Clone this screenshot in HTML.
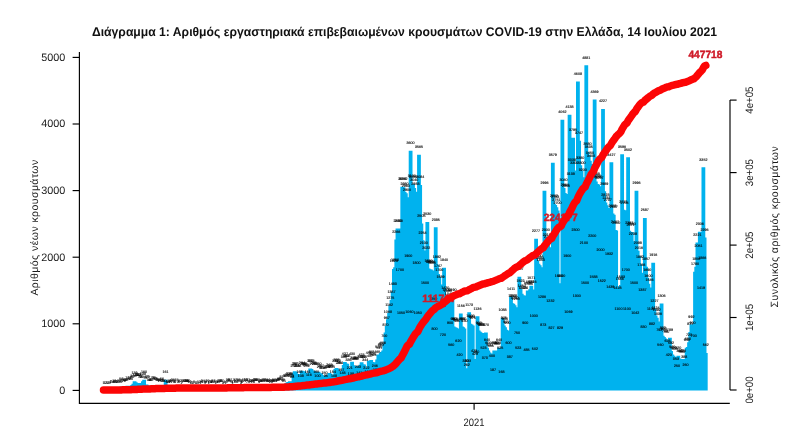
<!DOCTYPE html>
<html lang="el"><head><meta charset="utf-8"><title>Διάγραμμα 1</title>
<style>
html,body{margin:0;padding:0;background:#fff;}
body{width:789px;height:438px;overflow:hidden;}
svg{display:block;will-change:transform;font-family:"Liberation Sans",sans-serif;text-rendering:geometricPrecision;}
.t{font-size:3.65px;fill:#000;stroke:#000;stroke-width:0.12;text-anchor:middle;}
.ax{font-size:10.8px;fill:#1a1a1a;}
.al{font-size:10.5px;fill:#1a1a1a;}
.rl{font-size:10.4px;font-weight:bold;fill:#cf1a28;stroke:#cf1a28;stroke-width:0.45;text-anchor:middle;}
</style></head><body>
<svg width="789" height="438" viewBox="0 0 789 438">
<rect width="789" height="438" fill="#fff"/>
<text x="404.5" y="36" text-anchor="middle" font-size="12.6" font-weight="bold" fill="#111" textLength="625" lengthAdjust="spacingAndGlyphs">Διάγραμμα 1: Αριθμός εργαστηριακά επιβεβαιωμένων κρουσμάτων COVID-19 στην Ελλάδα, 14 Ιουλίου 2021</text>
<path fill="#00b2ee" d="M101.60,390.40L101.60,390.33L102.80,390.33L102.80,390.33L103.99,390.33L103.99,390.27L105.19,390.27L105.19,390.27L105.40,390.27L105.40,390.27L106.38,390.27L106.38,390.27L106.59,390.27L106.59,390.27L107.58,390.27L107.58,390.20L107.79,390.20L107.79,390.20L108.77,390.20L108.77,389.93L108.98,389.93L108.98,389.93L109.97,389.93L109.97,389.47L110.18,389.47L110.18,389.47L111.16,389.47L111.16,389.33L111.38,389.33L111.38,389.33L112.36,389.33L112.36,389.13L112.57,389.13L112.57,389.13L113.55,389.13L113.55,389.13L113.77,389.13L113.77,389.13L114.75,389.13L114.75,389.13L114.96,389.13L114.96,389.13L115.94,389.13L115.94,389.13L116.16,389.13L116.16,389.27L117.14,389.27L117.14,388.20L117.35,388.20L117.35,388.20L118.33,388.20L118.33,388.20L118.55,388.20L118.55,388.20L119.53,388.20L119.53,386.54L119.74,386.54L119.74,386.54L120.72,386.54L120.72,386.54L120.94,386.54L120.94,386.54L121.92,386.54L121.92,386.54L122.13,386.54L122.13,386.54L123.11,386.54L123.11,386.54L123.33,386.54L123.33,387.47L124.31,387.47L124.31,387.47L124.52,387.47L124.52,387.74L125.50,387.74L125.50,385.67L125.72,385.67L125.72,385.67L126.69,385.67L126.69,385.67L126.91,385.67L126.91,385.67L127.89,385.67L127.89,385.67L128.10,385.67L128.10,385.67L129.09,385.67L129.09,385.67L129.30,385.67L129.30,385.67L130.28,385.67L130.28,385.07L130.50,385.07L130.50,385.07L131.47,385.07L131.47,383.74L131.69,383.74L131.69,383.74L132.67,383.74L132.67,381.14L132.88,381.14L132.88,381.14L133.87,381.14L133.87,381.14L134.08,381.14L134.08,381.14L135.06,381.14L135.06,381.14L135.28,381.14L135.28,381.14L136.25,381.14L136.25,381.14L136.47,381.14L136.47,382.21L137.45,382.21L137.45,382.21L137.66,382.21L137.66,382.94L138.65,382.94L138.65,382.94L138.86,382.94L138.86,382.94L139.84,382.94L139.84,382.94L140.06,382.94L140.06,383.07L141.03,383.07L141.03,381.21L141.25,381.21L141.25,381.21L142.23,381.21L142.23,379.74L142.44,379.74L142.44,379.74L143.43,379.74L143.43,379.74L143.64,379.74L143.64,379.74L144.62,379.74L144.62,379.74L144.84,379.74L144.84,379.74L145.81,379.74L145.81,379.74L146.03,379.74L146.03,384.61L147.01,384.61L147.01,384.61L147.22,384.61L147.22,384.61L148.21,384.61L148.21,384.61L148.42,384.61L148.42,385.14L149.40,385.14L149.40,385.14L149.62,385.14L149.62,387.34L150.59,387.34L150.59,385.40L150.81,385.40L150.81,385.40L151.79,385.40L151.79,385.40L152.00,385.40L152.00,385.40L152.99,385.40L152.99,385.40L153.20,385.40L153.20,385.40L154.18,385.40L154.18,385.40L154.40,385.40L154.40,385.54L155.38,385.54L155.38,385.54L155.59,385.54L155.59,386.60L156.57,386.60L156.57,386.60L156.78,386.60L156.78,386.74L157.76,386.74L157.76,386.74L157.98,386.74L157.98,387.20L158.96,387.20L158.96,387.20L159.18,387.20L159.18,387.47L160.16,387.47L160.16,387.07L160.37,387.07L160.37,387.07L161.35,387.07L161.35,387.07L161.56,387.07L161.56,387.07L162.54,387.07L162.54,387.07L162.76,387.07L162.76,387.07L163.74,387.07L163.74,379.68L163.96,379.68L163.96,379.68L164.94,379.68L164.94,379.68L165.15,379.68L165.15,379.68L166.13,379.68L166.13,379.68L166.34,379.68L166.34,379.68L167.32,379.68L167.32,379.68L167.54,379.68L167.54,389.13L168.52,389.13L168.52,389.13L168.74,389.13L168.74,389.13L169.72,389.13L169.72,388.80L169.93,388.80L169.93,388.80L170.91,388.80L170.91,388.00L171.12,388.00L171.12,388.00L172.10,388.00L172.10,388.00L172.32,388.00L172.32,388.00L173.30,388.00L173.30,388.00L173.51,388.00L173.51,388.00L174.50,388.00L174.50,387.40L174.71,387.40L174.71,387.40L175.69,387.40L175.69,387.40L175.91,387.40L175.91,387.40L176.88,387.40L176.88,387.40L177.10,387.40L177.10,387.40L178.08,387.40L178.08,387.40L178.29,387.40L178.29,388.93L179.28,388.93L179.28,388.93L179.49,388.93L179.49,388.93L180.47,388.93L180.47,388.93L180.69,388.93L180.69,388.93L181.66,388.93L181.66,388.67L181.88,388.67L181.88,388.67L182.86,388.67L182.86,388.67L183.07,388.67L183.07,388.67L184.06,388.67L184.06,388.67L184.27,388.67L184.27,388.67L185.25,388.67L185.25,388.54L185.47,388.54L185.47,388.54L186.44,388.54L186.44,388.40L186.66,388.40L186.66,388.40L187.64,388.40L187.64,388.40L187.85,388.40L187.85,388.40L188.84,388.40L188.84,388.40L189.05,388.40L189.05,388.40L190.03,388.40L190.03,388.40L190.25,388.40L190.25,389.73L191.22,389.73L191.22,389.73L191.44,389.73L191.44,390.33L192.42,390.33L192.42,390.07L192.63,390.07L192.63,390.07L193.62,390.07L193.62,390.07L193.83,390.07L193.83,390.07L194.81,390.07L194.81,390.07L195.03,390.07L195.03,390.07L196.00,390.07L196.00,390.07L196.22,390.07L196.22,390.33L197.20,390.33L197.20,389.60L197.41,389.60L197.41,389.60L198.40,389.60L198.40,389.60L198.61,389.60L198.61,389.60L199.59,389.60L199.59,389.60L199.81,389.60L199.81,389.60L200.78,389.60L200.78,388.80L201.00,388.80L201.00,388.80L201.98,388.80L201.98,388.80L202.19,388.80L202.19,388.80L203.18,388.80L203.18,388.80L203.39,388.80L203.39,388.80L204.37,388.80L204.37,388.80L204.59,388.80L204.59,389.53L205.56,389.53L205.56,389.07L205.78,389.07L205.78,389.07L206.76,389.07L206.76,389.07L206.97,389.07L206.97,389.07L207.96,389.07L207.96,389.07L208.17,389.07L208.17,389.07L209.15,389.07L209.15,389.07L209.37,389.07L209.37,389.40L210.34,389.40L210.34,389.40L210.56,389.40L210.56,389.40L211.54,389.40L211.54,388.54L211.75,388.54L211.75,388.54L212.74,388.54L212.74,388.54L212.95,388.54L212.95,388.54L213.93,388.54L213.93,388.54L214.15,388.54L214.15,388.54L215.12,388.54L215.12,388.54L215.34,388.54L215.34,389.80L216.32,389.80L216.32,389.73L216.53,389.73L216.53,389.73L217.51,389.73L217.51,388.73L217.73,388.73L217.73,388.73L218.71,388.73L218.71,388.47L218.93,388.47L218.93,388.47L219.91,388.47L219.91,388.47L220.12,388.47L220.12,388.47L221.10,388.47L221.10,388.47L221.31,388.47L221.31,388.47L222.29,388.47L222.29,388.47L222.51,388.47L222.51,388.60L223.49,388.60L223.49,388.60L223.71,388.60L223.71,390.13L224.69,390.13L224.69,390.00L224.90,390.00L224.90,390.00L225.88,390.00L225.88,388.07L226.09,388.07L226.09,388.07L227.07,388.07L227.07,388.07L227.29,388.07L227.29,388.07L228.27,388.07L228.27,387.94L228.49,387.94L228.49,387.94L229.47,387.94L229.47,387.94L229.68,387.94L229.68,387.94L230.66,387.94L230.66,387.94L230.88,387.94L230.88,387.94L231.85,387.94L231.85,387.94L232.07,387.94L232.07,389.53L233.05,389.53L233.05,387.94L233.26,387.94L233.26,387.94L234.25,387.94L234.25,387.94L234.46,387.94L234.46,387.94L235.44,387.94L235.44,387.94L235.66,387.94L235.66,387.94L236.63,387.94L236.63,387.87L236.85,387.87L236.85,387.87L237.83,387.87L237.83,387.87L238.04,387.87L238.04,387.87L239.03,387.87L239.03,387.87L239.24,387.87L239.24,387.87L240.22,387.87L240.22,387.87L240.44,387.87L240.44,388.20L241.41,388.20L241.41,387.27L241.63,387.27L241.63,387.27L242.61,387.27L242.61,387.27L242.82,387.27L242.82,387.27L243.81,387.27L243.81,387.27L244.02,387.27L244.02,387.27L245.00,387.27L245.00,387.27L245.22,387.27L245.22,387.87L246.19,387.87L246.19,387.87L246.41,387.87L246.41,387.87L247.39,387.87L247.39,387.87L247.60,387.87L247.60,387.94L248.59,387.94L248.59,387.94L248.80,387.94L248.80,387.94L249.78,387.94L249.78,387.94L250.00,387.94L250.00,388.20L250.97,388.20L250.97,388.20L251.19,388.20L251.19,388.20L252.17,388.20L252.17,387.54L252.38,387.54L252.38,387.54L253.37,387.54L253.37,387.54L253.58,387.54L253.58,387.54L254.56,387.54L254.56,387.54L254.78,387.54L254.78,387.54L255.75,387.54L255.75,387.54L255.97,387.54L255.97,387.94L256.95,387.94L256.95,387.94L257.17,387.94L257.17,387.94L258.14,387.94L258.14,387.94L258.36,387.94L258.36,387.94L259.34,387.94L259.34,387.94L259.56,387.94L259.56,388.47L260.54,388.47L260.54,388.47L260.75,388.47L260.75,388.47L261.73,388.47L261.73,387.94L261.94,387.94L261.94,387.94L262.93,387.94L262.93,387.87L263.14,387.87L263.14,387.87L264.12,387.87L264.12,387.87L264.33,387.87L264.33,387.87L265.31,387.87L265.31,387.87L265.53,387.87L265.53,387.87L266.51,387.87L266.51,387.67L266.73,387.67L266.73,387.67L267.70,387.67L267.70,387.67L267.92,387.67L267.92,387.67L268.90,387.67L268.90,387.67L269.12,387.67L269.12,387.67L270.10,387.67L270.10,387.67L270.31,387.67L270.31,388.47L271.29,388.47L271.29,387.40L271.50,387.40L271.50,387.40L272.49,387.40L272.49,387.40L272.70,387.40L272.70,387.40L273.68,387.40L273.68,387.40L273.89,387.40L273.89,387.40L274.88,387.40L274.88,387.40L275.09,387.40L275.09,387.80L276.07,387.80L276.07,387.54L276.29,387.54L276.29,387.54L277.26,387.54L277.26,386.47L277.48,386.47L277.48,386.47L278.46,386.47L278.46,386.40L278.68,386.40L278.68,386.40L279.65,386.40L279.65,385.01L279.87,385.01L279.87,385.01L280.85,385.01L280.85,385.01L281.06,385.01L281.06,385.01L282.05,385.01L282.05,385.01L282.26,385.01L282.26,385.01L283.24,385.01L283.24,383.94L283.45,383.94L283.45,383.94L284.44,383.94L284.44,383.34L284.65,383.34L284.65,383.34L285.63,383.34L285.63,382.34L285.85,382.34L285.85,382.34L286.82,382.34L286.82,381.88L287.04,381.88L287.04,381.88L288.02,381.88L288.02,381.21L288.24,381.21L288.24,381.21L289.21,381.21L289.21,381.21L289.43,381.21L289.43,381.21L290.41,381.21L290.41,381.21L290.62,381.21L290.62,381.21L291.61,381.21L291.61,373.35L291.82,373.35L291.82,373.35L292.80,373.35L292.80,371.29L293.01,371.29L293.01,371.29L294.00,371.29L294.00,371.29L294.21,371.29L294.21,371.29L295.19,371.29L295.19,371.29L295.40,371.29L295.40,371.29L296.38,371.29L296.38,371.29L296.60,371.29L296.60,371.69L297.58,371.69L297.58,371.69L297.80,371.69L297.80,374.02L298.77,374.02L298.77,374.02L298.99,374.02L298.99,374.02L299.97,374.02L299.97,370.82L300.19,370.82L300.19,370.82L301.17,370.82L301.17,370.82L301.38,370.82L301.38,370.82L302.36,370.82L302.36,370.82L302.57,370.82L302.57,370.82L303.56,370.82L303.56,370.82L303.77,370.82L303.77,371.22L304.75,371.22L304.75,371.22L304.96,371.22L304.96,371.22L305.94,371.22L305.94,371.22L306.16,371.22L306.16,372.88L307.14,372.88L307.14,372.88L307.36,372.88L307.36,373.15L308.33,373.15L308.33,368.42L308.55,368.42L308.55,368.42L309.53,368.42L309.53,368.42L309.75,368.42L309.75,368.42L310.73,368.42L310.73,368.42L310.94,368.42L310.94,368.42L311.92,368.42L311.92,368.42L312.13,368.42L312.13,368.89L313.12,368.89L313.12,368.89L313.33,368.89L313.33,370.75L314.31,370.75L314.31,370.75L314.52,370.75L314.52,370.75L315.50,370.75L315.50,370.75L315.72,370.75L315.72,371.75L316.70,371.75L316.70,371.75L316.92,371.75L316.92,371.75L317.89,371.75L317.89,371.75L318.11,371.75L318.11,371.75L319.09,371.75L319.09,371.75L319.31,371.75L319.31,371.75L320.29,371.75L320.29,371.75L320.50,371.75L320.50,373.28L321.48,373.28L321.48,373.28L321.69,373.28L321.69,373.28L322.68,373.28L322.68,373.28L322.89,373.28L322.89,375.35L323.87,375.35L323.87,375.35L324.08,375.35L324.08,375.88L325.06,375.88L325.06,374.68L325.28,374.68L325.28,374.68L326.26,374.68L326.26,374.68L326.48,374.68L326.48,374.68L327.45,374.68L327.45,372.88L327.67,372.88L327.67,372.88L328.65,372.88L328.65,372.88L328.87,372.88L328.87,372.88L329.85,372.88L329.85,372.88L330.06,372.88L330.06,372.88L331.04,372.88L331.04,372.88L331.25,372.88L331.25,373.82L332.24,373.82L332.24,373.82L332.45,373.82L332.45,374.82L333.43,374.82L333.43,369.02L333.64,369.02L333.64,369.02L334.62,369.02L334.62,367.89L334.84,367.89L334.84,367.89L335.82,367.89L335.82,367.89L336.04,367.89L336.04,367.89L337.01,367.89L337.01,367.89L337.23,367.89L337.23,367.89L338.21,367.89L338.21,367.89L338.43,367.89L338.43,368.95L339.40,368.95L339.40,368.95L339.62,368.95L339.62,370.82L340.60,370.82L340.60,370.82L340.81,370.82L340.81,370.82L341.80,370.82L341.80,364.89L342.01,364.89L342.01,364.89L342.99,364.89L342.99,361.96L343.20,361.96L343.20,361.96L344.19,361.96L344.19,361.96L344.40,361.96L344.40,361.96L345.38,361.96L345.38,361.96L345.60,361.96L345.60,361.96L346.57,361.96L346.57,361.96L346.79,361.96L346.79,363.56L347.77,363.56L347.77,363.56L347.99,363.56L347.99,363.63L348.96,363.63L348.96,363.63L349.18,363.63L349.18,368.02L350.16,368.02L350.16,361.76L350.38,361.76L350.38,361.76L351.36,361.76L351.36,361.76L351.57,361.76L351.57,361.76L352.55,361.76L352.55,361.76L352.76,361.76L352.76,361.76L353.75,361.76L353.75,361.76L353.96,361.76L353.96,365.23L354.94,365.23L354.94,365.23L355.15,365.23L355.15,365.96L356.13,365.96L356.13,365.96L356.35,365.96L356.35,365.96L357.33,365.96L357.33,365.96L357.55,365.96L357.55,365.96L358.52,365.96L358.52,364.63L358.74,364.63L358.74,364.63L359.72,364.63L359.72,362.23L359.94,362.23L359.94,362.23L360.92,362.23L360.92,362.23L361.13,362.23L361.13,362.23L362.11,362.23L362.11,362.23L362.32,362.23L362.32,362.23L363.31,362.23L363.31,362.23L363.52,362.23L363.52,364.29L364.50,364.29L364.50,364.29L364.71,364.29L364.71,364.43L365.69,364.43L365.69,364.43L365.91,364.43L365.91,367.49L366.89,367.49L366.89,360.76L367.11,360.76L367.11,360.76L368.08,360.76L368.08,360.76L368.30,360.76L368.30,360.76L369.28,360.76L369.28,359.90L369.50,359.90L369.50,359.90L370.48,359.90L370.48,359.90L370.69,359.90L370.69,359.90L371.67,359.90L371.67,359.90L371.88,359.90L371.88,359.90L372.87,359.90L372.87,359.90L373.08,359.90L373.08,361.90L374.06,361.90L374.06,361.90L374.27,361.90L374.27,362.16L375.25,362.16L375.25,359.43L375.47,359.43L375.47,359.43L376.45,359.43L376.45,354.57L376.67,354.57L376.67,354.57L377.64,354.57L377.64,354.57L377.86,354.57L377.86,354.57L378.84,354.57L378.84,353.10L379.06,353.10L379.06,353.10L380.04,353.10L380.04,351.97L380.25,351.97L380.25,351.97L381.23,351.97L381.23,350.44L381.44,350.44L381.44,350.44L382.43,350.44L382.43,343.78L382.64,343.78L382.64,343.78L383.62,343.78L383.62,332.46L383.83,332.46L383.83,332.46L384.81,332.46L384.81,326.00L385.03,326.00L385.03,326.00L386.01,326.00L386.01,319.27L386.23,319.27L386.23,319.27L387.20,319.27L387.20,313.01L387.42,313.01L387.42,313.01L388.40,313.01L388.40,305.48L388.62,305.48L388.62,305.48L389.60,305.48L389.60,300.02L389.81,300.02L389.81,300.02L390.79,300.02L390.79,291.63L391.00,291.63L391.00,291.63L391.99,291.63L391.99,268.99L392.20,268.99L392.20,268.99L393.18,268.99L393.18,267.19L393.39,267.19L393.39,267.19L394.38,267.19L394.38,239.48L394.59,239.48L394.59,239.48L395.57,239.48L395.57,228.56L395.79,228.56L395.79,228.56L396.76,228.56L396.76,228.56L396.98,228.56L396.98,228.56L397.96,228.56L397.96,228.56L398.18,228.56L398.18,228.56L399.15,228.56L399.15,228.56L399.37,228.56L399.37,228.56L400.35,228.56L400.35,186.87L400.56,186.87L400.56,186.87L401.55,186.87L401.55,186.87L401.76,186.87L401.76,186.87L402.74,186.87L402.74,186.87L402.95,186.87L402.95,186.87L403.94,186.87L403.94,186.87L404.15,186.87L404.15,187.14L405.13,187.14L405.13,187.14L405.35,187.14L405.35,191.93L406.32,191.93L406.32,191.93L406.54,191.93L406.54,193.26L407.52,193.26L407.52,193.26L407.74,193.26L407.74,197.26L408.71,197.26L408.71,150.64L408.93,150.64L408.93,150.64L409.91,150.64L409.91,150.64L410.12,150.64L410.12,150.64L411.11,150.64L411.11,150.64L411.32,150.64L411.32,150.64L412.30,150.64L412.30,150.64L412.51,150.64L412.51,183.94L413.50,183.94L413.50,183.94L413.71,183.94L413.71,184.21L414.69,184.21L414.69,184.21L414.90,184.21L414.90,187.94L415.88,187.94L415.88,187.94L416.10,187.94L416.10,191.73L417.08,191.73L417.08,154.64L417.30,154.64L417.30,154.64L418.27,154.64L418.27,154.64L418.49,154.64L418.49,154.64L419.47,154.64L419.47,154.64L419.69,154.64L419.69,154.64L420.67,154.64L420.67,154.64L420.88,154.64L420.88,185.01L421.86,185.01L421.86,185.01L422.07,185.01L422.07,223.57L423.06,223.57L423.06,223.57L423.27,223.57L423.27,240.28L424.25,240.28L424.25,240.28L424.46,240.28L424.46,250.54L425.44,250.54L425.44,221.90L425.66,221.90L425.66,221.90L426.64,221.90L426.64,221.90L426.86,221.90L426.86,221.90L427.83,221.90L427.83,221.90L428.05,221.90L428.05,221.90L429.03,221.90L429.03,221.90L429.25,221.90L429.25,268.52L430.23,268.52L430.23,268.52L430.44,268.52L430.44,269.19L431.42,269.19L431.42,269.19L431.63,269.19L431.63,269.59L432.62,269.59L432.62,269.59L432.83,269.59L432.83,270.52L433.81,270.52L433.81,227.23L434.02,227.23L434.02,227.23L435.00,227.23L435.00,227.23L435.22,227.23L435.22,227.23L436.20,227.23L436.20,227.23L436.42,227.23L436.42,227.23L437.39,227.23L437.39,227.23L437.61,227.23L437.61,264.39L438.59,264.39L438.59,264.39L438.81,264.39L438.81,274.05L439.79,274.05L439.79,274.05L440.00,274.05L440.00,277.18L440.98,277.18L440.98,277.18L441.19,277.18L441.19,284.57L442.18,284.57L442.18,267.86L442.39,267.86L442.39,267.86L443.37,267.86L443.37,267.86L443.58,267.86L443.58,267.86L444.56,267.86L444.56,267.86L444.78,267.86L444.78,267.86L445.76,267.86L445.76,267.86L445.98,267.86L445.98,295.83L446.95,295.83L446.95,295.83L447.17,295.83L447.17,297.16L448.15,297.16L448.15,297.16L448.37,297.16L448.37,298.49L449.35,298.49L449.35,298.49L449.56,298.49L449.56,301.16L450.54,301.16L450.54,297.83L450.75,297.83L450.75,297.83L451.74,297.83L451.74,297.83L451.95,297.83L451.95,297.83L452.93,297.83L452.93,297.83L453.14,297.83L453.14,297.83L454.12,297.83L454.12,297.83L454.34,297.83L454.34,326.46L455.32,326.46L455.32,326.46L455.54,326.46L455.54,327.13L456.51,327.13L456.51,327.13L456.73,327.13L456.73,327.80L457.71,327.80L457.71,327.80L457.93,327.80L457.93,328.46L458.90,328.46L458.90,313.41L459.12,313.41L459.12,313.41L460.10,313.41L460.10,313.41L460.31,313.41L460.31,313.41L461.30,313.41L461.30,313.41L461.51,313.41L461.51,313.41L462.49,313.41L462.49,313.41L462.70,313.41L462.70,326.46L463.69,326.46L463.69,326.46L463.90,326.46L463.90,327.13L464.88,327.13L464.88,327.13L465.10,327.13L465.10,328.46L466.07,328.46L466.07,328.46L466.29,328.46L466.29,368.22L467.27,368.22L467.27,312.28L467.49,312.28L467.49,312.28L468.46,312.28L468.46,312.28L468.68,312.28L468.68,312.28L469.66,312.28L469.66,312.28L469.88,312.28L469.88,312.28L470.86,312.28L470.86,312.28L471.07,312.28L471.07,323.80L472.05,323.80L472.05,323.80L472.26,323.80L472.26,324.47L473.25,324.47L473.25,324.47L473.46,324.47L473.46,325.46L474.44,325.46L474.44,325.46L474.65,325.46L474.65,358.90L475.63,358.90L475.63,316.27L475.85,316.27L475.85,316.27L476.83,316.27L476.83,316.27L477.05,316.27L477.05,316.27L478.02,316.27L478.02,316.27L478.24,316.27L478.24,316.27L479.22,316.27L479.22,316.27L479.44,316.27L479.44,330.46L480.42,330.46L480.42,330.46L480.63,330.46L480.63,331.79L481.61,331.79L481.61,331.79L481.82,331.79L481.82,332.66L482.81,332.66L482.81,332.66L483.02,332.66L483.02,333.12L484.00,333.12L484.00,332.46L484.21,332.46L484.21,332.46L485.19,332.46L485.19,332.46L485.41,332.46L485.41,332.46L486.39,332.46L486.39,332.46L486.61,332.46L486.61,332.46L487.58,332.46L487.58,332.46L487.80,332.46L487.80,347.78L488.78,347.78L488.78,347.78L489.00,347.78L489.00,350.44L489.98,350.44L489.98,350.44L490.19,350.44L490.19,352.44L491.17,352.44L491.17,352.44L491.38,352.44L491.38,353.44L492.37,353.44L492.37,350.44L492.58,350.44L492.58,350.44L493.56,350.44L493.56,350.44L493.77,350.44L493.77,350.44L494.75,350.44L494.75,350.44L494.97,350.44L494.97,350.44L495.95,350.44L495.95,350.44L496.17,350.44L496.17,350.44L497.14,350.44L497.14,347.78L497.36,347.78L497.36,347.78L498.34,347.78L498.34,347.78L498.56,347.78L498.56,347.78L499.54,347.78L499.54,347.78L499.75,347.78L499.75,347.78L500.73,347.78L500.73,317.94L500.94,317.94L500.94,317.94L501.93,317.94L501.93,317.94L502.14,317.94L502.14,317.94L503.12,317.94L503.12,317.94L503.33,317.94L503.33,317.94L504.31,317.94L504.31,317.94L504.53,317.94L504.53,325.46L505.51,325.46L505.51,325.46L505.73,325.46L505.73,327.13L506.70,327.13L506.70,327.13L506.92,327.13L506.92,329.73L507.90,329.73L507.90,329.73L508.12,329.73L508.12,330.46L509.10,330.46L509.10,296.43L509.31,296.43L509.31,296.43L510.29,296.43L510.29,296.43L510.50,296.43L510.50,296.43L511.49,296.43L511.49,296.43L511.70,296.43L511.70,296.43L512.68,296.43L512.68,296.43L512.89,296.43L512.89,303.15L513.88,303.15L513.88,303.15L514.09,303.15L514.09,303.75L515.07,303.75L515.07,303.75L515.28,303.75L515.28,305.15L516.26,305.15L516.26,305.15L516.48,305.15L516.48,307.15L517.46,307.15L517.46,276.71L517.67,276.71L517.67,276.71L518.65,276.71L518.65,276.71L518.87,276.71L518.87,276.71L519.85,276.71L519.85,276.71L520.07,276.71L520.07,276.71L521.04,276.71L521.04,276.71L521.26,276.71L521.26,289.03L522.24,289.03L522.24,289.03L522.46,289.03L522.46,293.83L523.43,293.83L523.43,293.83L523.65,293.83L523.65,295.16L524.63,295.16L524.63,295.16L524.85,295.16L524.85,295.56L525.83,295.56L525.83,290.50L526.04,290.50L526.04,290.50L527.02,290.50L527.02,290.50L527.24,290.50L527.24,290.50L528.22,290.50L528.22,289.17L528.43,289.17L528.43,289.17L529.41,289.17L529.41,285.77L529.62,285.77L529.62,285.77L530.61,285.77L530.61,285.77L530.82,285.77L530.82,285.77L531.80,285.77L531.80,285.77L532.01,285.77L532.01,285.77L533.00,285.77L533.00,285.77L533.21,285.77L533.21,289.43L534.19,289.43L534.19,238.75L534.40,238.75L534.40,238.75L535.38,238.75L535.38,238.75L535.60,238.75L535.60,238.75L536.58,238.75L536.58,238.75L536.79,238.75L536.79,238.75L537.77,238.75L537.77,238.75L537.99,238.75L537.99,260.53L538.97,260.53L538.97,260.53L539.18,260.53L539.18,263.86L540.16,263.86L540.16,263.86L540.38,263.86L540.38,265.19L541.36,265.19L541.36,265.19L541.58,265.19L541.58,267.19L542.55,267.19L542.55,190.87L542.77,190.87L542.77,190.87L543.75,190.87L543.75,190.87L543.97,190.87L543.97,190.87L544.95,190.87L544.95,190.87L545.16,190.87L545.16,190.87L546.14,190.87L546.14,190.87L546.36,190.87L546.36,237.22L547.34,237.22L547.34,237.22L547.55,237.22L547.55,242.88L548.53,242.88L548.53,242.88L548.75,242.88L548.75,244.55L549.73,244.55L549.73,244.55L549.94,244.55L549.94,247.21L550.92,247.21L550.92,162.69L551.13,162.69L551.13,162.69L552.12,162.69L552.12,162.69L552.33,162.69L552.33,162.69L553.31,162.69L553.31,162.69L553.52,162.69L553.52,162.69L554.50,162.69L554.50,162.69L554.72,162.69L554.72,203.79L555.70,203.79L555.70,203.79L555.91,203.79L555.91,205.05L556.89,205.05L556.89,205.05L557.11,205.05L557.11,207.18L558.09,207.18L558.09,207.18L558.30,207.18L558.30,210.58L559.28,210.58L559.28,210.58L559.50,210.58L559.50,283.17L560.48,283.17L560.48,119.87L560.70,119.87L560.70,119.87L561.67,119.87L561.67,119.87L561.89,119.87L561.89,119.87L562.87,119.87L562.87,119.87L563.09,119.87L563.09,119.87L564.07,119.87L564.07,119.87L564.28,119.87L564.28,187.94L565.26,187.94L565.26,187.94L565.48,187.94L565.48,193.00L566.46,193.00L566.46,193.00L566.67,193.00L566.67,193.93L567.65,193.93L567.65,114.81L567.87,114.81L567.87,114.81L568.85,114.81L568.85,114.81L569.06,114.81L569.06,114.81L570.04,114.81L570.04,114.81L570.25,114.81L570.25,114.81L571.24,114.81L571.24,114.81L571.45,114.81L571.45,137.65L572.43,137.65L572.43,137.65L572.64,137.65L572.64,137.65L573.62,137.65L573.62,137.65L573.84,137.65L573.84,137.65L574.82,137.65L574.82,137.65L575.03,137.65L575.03,170.62L576.01,170.62L576.01,81.38L576.23,81.38L576.23,81.38L577.21,81.38L577.21,81.38L577.42,81.38L577.42,81.38L578.40,81.38L578.40,81.38L578.62,81.38L578.62,81.38L579.60,81.38L579.60,81.38L579.82,81.38L579.82,140.85L580.79,140.85L580.79,140.85L581.01,140.85L581.01,165.29L581.99,165.29L581.99,165.29L582.21,165.29L582.21,170.62L583.18,170.62L583.18,170.62L583.40,170.62L583.40,177.28L584.38,177.28L584.38,65.33L584.60,65.33L584.60,65.33L585.58,65.33L585.58,65.33L585.79,65.33L585.79,65.33L586.77,65.33L586.77,65.33L586.99,65.33L586.99,65.33L587.97,65.33L587.97,65.33L588.18,65.33L588.18,151.97L589.16,151.97L589.16,151.97L589.38,151.97L589.38,154.97L590.36,154.97L590.36,154.97L590.57,154.97L590.57,160.63L591.55,160.63L591.55,160.63L591.76,160.63L591.76,163.96L592.75,163.96L592.75,99.42L592.96,99.42L592.96,99.42L593.94,99.42L593.94,99.42L594.15,99.42L594.15,99.42L595.13,99.42L595.13,99.42L595.35,99.42L595.35,99.42L596.33,99.42L596.33,99.42L596.54,99.42L596.54,181.41L597.52,181.41L597.52,181.41L597.74,181.41L597.74,183.94L598.72,183.94L598.72,183.94L598.93,183.94L598.93,184.61L599.91,184.61L599.91,184.61L600.13,184.61L600.13,186.14L601.11,186.14L601.11,108.88L601.33,108.88L601.33,108.88L602.30,108.88L602.30,108.88L602.52,108.88L602.52,108.88L603.50,108.88L603.50,108.88L603.72,108.88L603.72,108.88L604.70,108.88L604.70,108.88L604.91,108.88L604.91,191.33L605.89,191.33L605.89,191.33L606.11,191.33L606.11,202.39L607.09,202.39L607.09,202.39L607.30,202.39L607.30,205.19L608.28,205.19L608.28,205.19L608.50,205.19L608.50,208.12L609.48,208.12L609.48,162.16L609.69,162.16L609.69,162.16L610.67,162.16L610.67,162.16L610.88,162.16L610.88,162.16L611.87,162.16L611.87,162.16L612.08,162.16L612.08,162.16L613.06,162.16L613.06,162.16L613.27,162.16L613.27,213.38L614.25,213.38L614.25,213.38L614.47,213.38L614.47,214.78L615.45,214.78L615.45,214.78L615.66,214.78L615.66,230.09L616.64,230.09L616.64,230.09L616.86,230.09L616.86,230.56L617.84,230.56L617.84,230.56L618.05,230.56L618.05,286.77L619.03,286.77L619.03,284.97L619.25,284.97L619.25,284.97L620.23,284.97L620.23,154.24L620.45,154.24L620.45,154.24L621.42,154.24L621.42,154.24L621.64,154.24L621.64,154.24L622.62,154.24L622.62,154.24L622.84,154.24L622.84,154.24L623.82,154.24L623.82,154.24L624.03,154.24L624.03,209.78L625.01,209.78L625.01,209.78L625.23,209.78L625.23,210.31L626.21,210.31L626.21,157.17L626.42,157.17L626.42,157.17L627.40,157.17L627.40,157.17L627.62,157.17L627.62,157.17L628.60,157.17L628.60,157.17L628.81,157.17L628.81,157.17L629.79,157.17L629.79,157.17L630.00,157.17L630.00,230.76L630.99,230.76L630.99,230.76L631.20,230.76L631.20,231.89L632.18,231.89L632.18,231.89L632.39,231.89L632.39,231.89L633.38,231.89L633.38,231.89L633.59,231.89L633.59,241.35L634.57,241.35L634.57,190.87L634.78,190.87L634.78,190.87L635.76,190.87L635.76,190.87L635.98,190.87L635.98,190.87L636.96,190.87L636.96,190.87L637.17,190.87L637.17,190.87L638.15,190.87L638.15,190.87L638.37,190.87L638.37,250.67L639.35,250.67L639.35,250.67L639.57,250.67L639.57,256.13L640.54,256.13L640.54,256.13L640.76,256.13L640.76,264.39L641.74,264.39L641.74,264.39L641.96,264.39L641.96,272.78L642.93,272.78L642.93,218.11L643.15,218.11L643.15,218.11L644.13,218.11L644.13,218.11L644.35,218.11L644.35,218.11L645.33,218.11L645.33,218.11L645.54,218.11L645.54,218.11L646.52,218.11L646.52,218.11L646.74,218.11L646.74,266.72L647.72,266.72L647.72,266.72L647.93,266.72L647.93,277.85L648.91,277.85L648.91,277.85L649.12,277.85L649.12,283.84L650.11,283.84L650.11,283.84L650.32,283.84L650.32,287.44L651.30,287.44L651.30,262.79L651.51,262.79L651.51,262.79L652.50,262.79L652.50,262.79L652.71,262.79L652.71,262.79L653.69,262.79L653.69,262.79L653.90,262.79L653.90,262.79L654.88,262.79L654.88,262.79L655.10,262.79L655.10,308.68L656.08,308.68L656.08,308.68L656.29,308.68L656.29,315.54L657.27,315.54L657.27,315.54L657.49,315.54L657.49,317.67L658.47,317.67L658.47,317.67L658.68,317.67L658.68,321.40L659.66,321.40L659.66,303.42L659.88,303.42L659.88,303.42L660.86,303.42L660.86,303.42L661.08,303.42L661.08,303.42L662.05,303.42L662.05,303.42L662.27,303.42L662.27,303.42L663.25,303.42L663.25,303.42L663.47,303.42L663.47,335.65L664.45,335.65L664.45,335.65L664.66,335.65L664.66,337.12L665.64,337.12L665.64,337.12L665.86,337.12L665.86,338.45L666.84,338.45L666.84,338.45L667.05,338.45L667.05,339.78L668.03,339.78L668.03,337.85L668.25,337.85L668.25,337.85L669.23,337.85L669.23,337.85L669.44,337.85L669.44,337.85L670.42,337.85L670.42,337.85L670.63,337.85L670.63,337.85L671.62,337.85L671.62,337.85L671.83,337.85L671.83,350.97L672.81,350.97L672.81,350.97L673.02,350.97L673.02,354.44L674.00,354.44L674.00,354.44L674.22,354.44L674.22,355.77L675.20,355.77L675.20,355.77L675.41,355.77L675.41,357.10L676.39,357.10L676.39,355.77L676.61,355.77L676.61,355.77L677.59,355.77L677.59,355.77L677.80,355.77L677.80,355.77L678.78,355.77L678.78,355.77L679.00,355.77L679.00,355.77L679.98,355.77L679.98,355.77L680.20,355.77L680.20,358.43L681.17,358.43L681.17,358.43L681.39,358.43L681.39,359.10L682.37,359.10L682.37,359.10L682.59,359.10L682.59,359.10L683.57,359.10L683.57,359.10L683.78,359.10L683.78,359.10L684.76,359.10L684.76,347.78L684.98,347.78L684.98,347.78L685.96,347.78L685.96,347.11L686.17,347.11L686.17,347.11L687.15,347.11L687.15,342.25L687.37,342.25L687.37,342.25L688.35,342.25L688.35,331.99L688.56,331.99L688.56,331.99L689.54,331.99L689.54,324.33L689.75,324.33L689.75,324.33L690.74,324.33L690.74,324.33L690.95,324.33L690.95,324.33L691.93,324.33L691.93,324.33L692.14,324.33L692.14,324.33L693.12,324.33L693.12,271.85L693.34,271.85L693.34,271.85L694.32,271.85L694.32,266.79L694.53,266.79L694.53,266.79L695.51,266.79L695.51,242.48L695.73,242.48L695.73,242.48L696.71,242.48L696.71,242.48L696.92,242.48L696.92,242.48L697.90,242.48L697.90,231.69L698.12,231.69L698.12,231.69L699.10,231.69L699.10,231.69L699.32,231.69L699.32,231.69L700.29,231.69L700.29,231.69L700.51,231.69L700.51,231.69L701.49,231.69L701.49,167.16L701.71,167.16L701.71,167.16L702.68,167.16L702.68,167.16L702.90,167.16L702.90,167.16L703.88,167.16L703.88,167.16L704.10,167.16L704.10,167.16L705.29,167.16L705.29,237.49L706.49,237.49L706.49,352.97L707.68,352.97L707.68,390.40Z"/>
<g class="t"><text x="103.5" y="383.6">1</text><text x="104.7" y="383.6">1</text><text x="105.9" y="383.6">2</text><text x="107.1" y="383.6">1</text><text x="108.3" y="383.6">2</text><text x="109.5" y="383.5">3</text><text x="110.7" y="383.2">7</text><text x="111.9" y="382.8">14</text><text x="113.1" y="382.6">16</text><text x="114.3" y="382.4">19</text><text x="115.5" y="382.9">12</text><text x="116.6" y="383.0">11</text><text x="117.8" y="382.6">17</text><text x="119.0" y="381.5">33</text><text x="120.2" y="382.6">16</text><text x="121.4" y="379.8">58</text><text x="122.6" y="380.8">44</text><text x="123.8" y="381.8">29</text><text x="125.0" y="381.0">40</text><text x="126.2" y="381.3">36</text><text x="127.4" y="379.0">71</text><text x="128.6" y="379.6">62</text><text x="129.8" y="379.0">71</text><text x="131.0" y="379.7">60</text><text x="132.2" y="378.4">80</text><text x="133.4" y="377.0">100</text><text x="134.6" y="374.4">139</text><text x="135.8" y="375.5">123</text><text x="137.0" y="376.3">111</text><text x="138.2" y="376.2">112</text><text x="139.3" y="376.4">110</text><text x="140.5" y="378.1">84</text><text x="141.7" y="377.5">93</text><text x="142.9" y="374.5">138</text><text x="144.1" y="373.0">160</text><text x="145.3" y="378.7">75</text><text x="146.5" y="377.9">87</text><text x="147.7" y="378.4">79</text><text x="148.9" y="381.1">39</text><text x="150.1" y="381.0">41</text><text x="151.3" y="380.6">46</text><text x="152.5" y="378.7">75</text><text x="153.7" y="378.8">73</text><text x="154.9" y="379.9">57</text><text x="156.1" y="380.0">55</text><text x="157.3" y="380.5">48</text><text x="158.5" y="381.2">38</text><text x="159.7" y="382.0">25</text><text x="160.9" y="380.8">44</text><text x="162.1" y="380.4">50</text><text x="163.2" y="382.0">26</text><text x="164.4" y="382.4">20</text><text x="165.6" y="373.0">161</text><text x="166.8" y="383.4">4</text><text x="168.0" y="382.5">18</text><text x="169.2" y="382.4">19</text><text x="170.4" y="383.0">11</text><text x="171.6" y="382.1">24</text><text x="172.8" y="381.3">36</text><text x="174.0" y="383.1">9</text><text x="175.2" y="383.1">9</text><text x="176.4" y="380.7">45</text><text x="177.6" y="383.2">7</text><text x="178.8" y="383.2">8</text><text x="180.0" y="382.2">22</text><text x="181.2" y="383.6">1</text><text x="182.4" y="383.2">7</text><text x="183.6" y="382.0">26</text><text x="184.8" y="382.4">19</text><text x="186.0" y="382.1">24</text><text x="187.2" y="381.8">28</text><text x="188.3" y="381.7">30</text><text x="189.5" y="383.0">10</text><text x="190.7" y="383.6">1</text><text x="191.9" y="383.6">1</text><text x="193.1" y="383.6">1</text><text x="194.3" y="383.4">5</text><text x="195.5" y="383.6">1</text><text x="196.7" y="383.6">1</text><text x="197.9" y="383.6">1</text><text x="199.1" y="382.9">12</text><text x="200.3" y="383.6">1</text><text x="201.5" y="383.3">6</text><text x="202.7" y="382.1">24</text><text x="203.9" y="382.8">13</text><text x="205.1" y="383.6">1</text><text x="206.3" y="383.4">4</text><text x="207.5" y="382.4">20</text><text x="208.7" y="383.6">1</text><text x="209.9" y="382.7">15</text><text x="211.1" y="382.9">12</text><text x="212.2" y="383.0">11</text><text x="213.4" y="381.8">28</text><text x="214.6" y="383.4">4</text><text x="215.8" y="383.6">1</text><text x="217.0" y="383.1">9</text><text x="218.2" y="383.0">10</text><text x="219.4" y="382.0">25</text><text x="220.6" y="381.8">29</text><text x="221.8" y="381.9">27</text><text x="223.0" y="383.5">3</text><text x="224.2" y="383.4">4</text><text x="225.4" y="383.6">1</text><text x="226.6" y="383.3">6</text><text x="227.8" y="381.4">35</text><text x="229.0" y="381.5">33</text><text x="230.2" y="381.2">37</text><text x="231.4" y="383.4">5</text><text x="232.6" y="383.6">1</text><text x="233.8" y="382.8">13</text><text x="235.0" y="381.2">37</text><text x="236.1" y="381.9">27</text><text x="237.3" y="383.2">8</text><text x="238.5" y="381.2">38</text><text x="239.7" y="381.5">33</text><text x="240.9" y="383.5">3</text><text x="242.1" y="383.3">6</text><text x="243.3" y="380.6">47</text><text x="244.5" y="382.3">21</text><text x="245.7" y="381.2">38</text><text x="246.9" y="383.2">7</text><text x="248.1" y="381.2">37</text><text x="249.3" y="383.3">6</text><text x="250.5" y="381.5">33</text><text x="251.7" y="381.8">28</text><text x="252.9" y="382.5">18</text><text x="254.1" y="380.8">43</text><text x="255.3" y="381.4">34</text><text x="256.5" y="381.4">34</text><text x="257.7" y="381.2">37</text><text x="258.9" y="383.4">4</text><text x="260.0" y="382.0">25</text><text x="261.2" y="381.8">29</text><text x="262.4" y="382.2">22</text><text x="263.6" y="381.2">37</text><text x="264.8" y="381.2">38</text><text x="266.0" y="382.1">24</text><text x="267.2" y="382.4">19</text><text x="268.4" y="381.0">41</text><text x="269.6" y="381.8">28</text><text x="270.8" y="382.8">13</text><text x="272.0" y="381.8">29</text><text x="273.2" y="380.7">45</text><text x="274.4" y="382.4">20</text><text x="275.6" y="382.3">21</text><text x="276.8" y="381.1">39</text><text x="278.0" y="380.8">43</text><text x="279.2" y="379.8">59</text><text x="280.4" y="379.7">60</text><text x="281.6" y="378.3">81</text><text x="282.8" y="381.2">38</text><text x="283.9" y="381.6">31</text><text x="285.1" y="377.2">97</text><text x="286.3" y="376.6">106</text><text x="287.5" y="375.6">121</text><text x="288.7" y="375.2">128</text><text x="289.9" y="374.5">138</text><text x="291.1" y="376.8">103</text><text x="292.3" y="378.2">83</text><text x="293.5" y="366.7">256</text><text x="294.7" y="364.6">287</text><text x="295.9" y="365.0">281</text><text x="297.1" y="367.4">245</text><text x="298.3" y="367.3">246</text><text x="299.5" y="372.5">168</text><text x="300.7" y="376.5">108</text><text x="301.9" y="364.1">294</text><text x="303.1" y="364.9">282</text><text x="304.3" y="364.5">288</text><text x="305.5" y="366.2">263</text><text x="306.6" y="366.5">259</text><text x="307.8" y="373.0">161</text><text x="309.0" y="376.0">116</text><text x="310.2" y="361.7">330</text><text x="311.4" y="362.2">323</text><text x="312.6" y="365.2">278</text><text x="313.8" y="364.1">295</text><text x="315.0" y="365.1">280</text><text x="316.2" y="372.7">165</text><text x="317.4" y="377.0">100</text><text x="318.6" y="365.1">280</text><text x="319.8" y="367.9">237</text><text x="321.0" y="366.6">257</text><text x="322.2" y="368.6">226</text><text x="323.4" y="369.2">218</text><text x="324.6" y="373.7">150</text><text x="325.8" y="377.4">95</text><text x="327.0" y="368.0">236</text><text x="328.2" y="368.0">235</text><text x="329.4" y="366.2">263</text><text x="330.6" y="367.1">249</text><text x="331.7" y="368.1">234</text><text x="332.9" y="373.4">154</text><text x="334.1" y="376.5">108</text><text x="335.3" y="362.3">321</text><text x="336.5" y="361.2">338</text><text x="337.7" y="362.3">322</text><text x="338.9" y="364.3">291</text><text x="340.1" y="364.1">294</text><text x="341.3" y="370.6">197</text><text x="342.5" y="373.8">148</text><text x="343.7" y="358.2">383</text><text x="344.9" y="355.3">427</text><text x="346.1" y="356.9">403</text><text x="347.3" y="356.9">402</text><text x="348.5" y="361.3">336</text><text x="349.7" y="369.0">221</text><text x="350.9" y="374.5">138</text><text x="352.1" y="355.1">430</text><text x="353.3" y="358.5">378</text><text x="354.5" y="360.1">355</text><text x="355.6" y="359.9">358</text><text x="356.8" y="359.3">367</text><text x="358.0" y="368.2">233</text><text x="359.2" y="374.3">141</text><text x="360.4" y="357.9">387</text><text x="361.6" y="355.5">423</text><text x="362.8" y="357.6">392</text><text x="364.0" y="357.7">390</text><text x="365.2" y="360.8">344</text><text x="366.4" y="368.9">222</text><text x="367.6" y="372.8">164</text><text x="368.8" y="354.1">445</text><text x="370.0" y="356.6">407</text><text x="371.2" y="353.2">458</text><text x="372.4" y="355.2">428</text><text x="373.6" y="355.5">424</text><text x="374.8" y="367.3">246</text><text x="376.0" y="371.3">186</text><text x="377.2" y="352.7">465</text><text x="378.4" y="347.9">538</text><text x="379.5" y="349.3">517</text><text x="380.7" y="346.4">560</text><text x="381.9" y="345.3">577</text><text x="383.1" y="343.7">600</text><text x="384.3" y="337.1">700</text><text x="385.5" y="325.8">870</text><text x="386.7" y="319.3">967</text><text x="387.9" y="312.6">1068</text><text x="389.1" y="306.3">1162</text><text x="390.3" y="298.8">1275</text><text x="391.5" y="293.3">1357</text><text x="392.7" y="284.9">1483</text><text x="393.9" y="262.3">1823</text><text x="395.1" y="260.5">1850</text><text x="396.3" y="232.8">2266</text><text x="397.5" y="221.9">2430</text><text x="398.7" y="221.9">2430</text><text x="399.9" y="270.5">1700</text><text x="401.1" y="313.8">1050</text><text x="402.2" y="180.2">3056</text><text x="403.4" y="180.4">3052</text><text x="404.6" y="185.2">2980</text><text x="405.8" y="186.6">2960</text><text x="407.0" y="190.6">2900</text><text x="408.2" y="257.2">1900</text><text x="409.4" y="313.1">1060</text><text x="410.6" y="143.9">3600</text><text x="411.8" y="177.2">3100</text><text x="413.0" y="177.5">3096</text><text x="414.2" y="181.2">3040</text><text x="415.4" y="185.0">2983</text><text x="416.6" y="263.8">1800</text><text x="417.8" y="313.8">1050</text><text x="419.0" y="147.9">3565</text><text x="420.2" y="178.3">3084</text><text x="421.4" y="216.9">2505</text><text x="422.6" y="233.6">2254</text><text x="423.8" y="243.8">2100</text><text x="425.0" y="283.8">1500</text><text x="426.2" y="249.0">2022</text><text x="427.3" y="215.2">2530</text><text x="428.5" y="261.8">1830</text><text x="429.7" y="262.5">1820</text><text x="430.9" y="262.9">1814</text><text x="432.1" y="263.8">1800</text><text x="433.3" y="300.4">1250</text><text x="434.5" y="330.4">800</text><text x="435.7" y="220.5">2385</text><text x="436.9" y="257.7">1892</text><text x="438.1" y="267.3">1747</text><text x="439.3" y="270.5">1700</text><text x="440.5" y="277.9">1589</text><text x="441.7" y="307.1">1150</text><text x="442.9" y="335.7">720</text><text x="444.1" y="261.2">1840</text><text x="445.3" y="289.1">1420</text><text x="446.5" y="290.5">1400</text><text x="447.7" y="291.8">1380</text><text x="448.9" y="294.5">1340</text><text x="450.1" y="323.8">900</text><text x="451.2" y="346.4">560</text><text x="452.4" y="291.1">1390</text><text x="453.6" y="319.8">960</text><text x="454.8" y="320.4">950</text><text x="456.0" y="321.1">940</text><text x="457.2" y="321.8">930</text><text x="458.4" y="342.4">620</text><text x="459.6" y="355.7">420</text><text x="460.8" y="306.7">1156</text><text x="462.0" y="319.8">960</text><text x="463.2" y="320.4">950</text><text x="464.4" y="321.8">930</text><text x="465.6" y="361.7">330</text><text x="466.8" y="366.3">262</text><text x="468.0" y="361.5">333</text><text x="469.2" y="305.6">1173</text><text x="470.4" y="317.1">1000</text><text x="471.6" y="317.8">990</text><text x="472.8" y="318.8">975</text><text x="474.0" y="352.2">473</text><text x="475.1" y="355.1">429</text><text x="476.3" y="353.1">460</text><text x="477.5" y="309.6">1136</text><text x="478.7" y="323.8">900</text><text x="479.9" y="325.1">880</text><text x="481.1" y="326.0">867</text><text x="482.3" y="326.4">860</text><text x="483.5" y="348.9">523</text><text x="484.7" y="358.9">373</text><text x="485.9" y="325.8">870</text><text x="487.1" y="341.1">640</text><text x="488.3" y="343.7">600</text><text x="489.5" y="345.7">570</text><text x="490.7" y="346.7">555</text><text x="491.9" y="357.1">400</text><text x="493.1" y="371.2">187</text><text x="494.3" y="343.7">600</text><text x="495.5" y="344.4">590</text><text x="496.7" y="345.1">580</text><text x="497.9" y="343.7">600</text><text x="499.0" y="341.1">640</text><text x="500.2" y="348.7">525</text><text x="501.4" y="372.5">168</text><text x="502.6" y="311.2">1088</text><text x="503.8" y="318.8">975</text><text x="505.0" y="320.4">950</text><text x="506.2" y="323.0">911</text><text x="507.4" y="323.8">900</text><text x="508.6" y="343.7">600</text><text x="509.8" y="357.9">387</text><text x="511.0" y="289.7">1411</text><text x="512.2" y="296.5">1310</text><text x="513.4" y="297.1">1301</text><text x="514.6" y="298.5">1280</text><text x="515.8" y="300.4">1250</text><text x="517.0" y="333.8">750</text><text x="518.2" y="348.9">523</text><text x="519.4" y="270.0">1707</text><text x="520.6" y="282.3">1522</text><text x="521.8" y="287.1">1450</text><text x="522.9" y="288.5">1430</text><text x="524.1" y="288.9">1424</text><text x="525.3" y="323.8">900</text><text x="526.5" y="351.4">485</text><text x="527.7" y="283.8">1500</text><text x="528.9" y="285.1">1480</text><text x="530.1" y="282.5">1520</text><text x="531.3" y="279.1">1571</text><text x="532.5" y="282.7">1516</text><text x="533.7" y="317.1">1000</text><text x="534.9" y="350.3">502</text><text x="536.1" y="232.1">2277</text><text x="537.3" y="253.8">1950</text><text x="538.5" y="257.2">1900</text><text x="539.7" y="258.5">1880</text><text x="540.9" y="260.5">1850</text><text x="542.1" y="298.1">1286</text><text x="543.3" y="325.6">873</text><text x="544.5" y="184.2">2996</text><text x="545.7" y="230.5">2300</text><text x="546.8" y="236.2">2215</text><text x="548.0" y="237.8">2190</text><text x="549.2" y="240.5">2150</text><text x="550.4" y="301.6">1232</text><text x="551.6" y="328.6">827</text><text x="552.8" y="156.0">3579</text><text x="554.0" y="197.1">2802</text><text x="555.2" y="198.4">2783</text><text x="556.4" y="200.5">2751</text><text x="557.6" y="203.9">2700</text><text x="558.8" y="276.5">1610</text><text x="560.0" y="328.5">829</text><text x="561.2" y="277.1">1600</text><text x="562.4" y="113.2">4062</text><text x="563.6" y="181.2">3040</text><text x="564.8" y="186.3">2964</text><text x="566.0" y="187.2">2950</text><text x="567.2" y="257.2">1900</text><text x="568.4" y="312.5">1069</text><text x="569.5" y="108.1">4138</text><text x="570.7" y="174.7">3138</text><text x="571.9" y="161.4">3338</text><text x="573.1" y="131.0">3795</text><text x="574.3" y="163.9">3300</text><text x="575.5" y="230.5">2300</text><text x="576.7" y="297.1">1300</text><text x="577.9" y="74.7">4608</text><text x="579.1" y="134.1">3747</text><text x="580.3" y="158.6">3380</text><text x="581.5" y="163.9">3300</text><text x="582.7" y="170.6">3200</text><text x="583.9" y="243.8">2100</text><text x="585.1" y="283.8">1500</text><text x="586.3" y="58.6">4881</text><text x="587.5" y="145.3">3580</text><text x="588.7" y="148.3">3535</text><text x="589.9" y="153.9">3450</text><text x="591.1" y="157.3">3400</text><text x="592.3" y="237.2">2200</text><text x="593.5" y="277.9">1588</text><text x="594.6" y="92.7">4369</text><text x="595.8" y="174.7">3138</text><text x="597.0" y="177.2">3100</text><text x="598.2" y="177.9">3090</text><text x="599.4" y="179.4">3067</text><text x="600.6" y="250.5">2000</text><text x="601.8" y="282.3">1522</text><text x="603.0" y="102.2">4227</text><text x="604.2" y="184.6">2989</text><text x="605.4" y="195.7">2823</text><text x="606.6" y="198.5">2781</text><text x="607.8" y="201.4">2737</text><text x="609.0" y="255.0">1932</text><text x="610.2" y="287.9">1439</text><text x="611.4" y="155.5">3427</text><text x="612.6" y="206.7">2658</text><text x="613.8" y="208.1">2637</text><text x="615.0" y="223.4">2407</text><text x="616.2" y="223.9">2400</text><text x="617.4" y="288.6">1428</text><text x="618.5" y="310.4">1100</text><text x="619.7" y="280.1">1556</text><text x="620.9" y="278.3">1583</text><text x="622.1" y="147.5">3596</text><text x="623.3" y="203.1">2712</text><text x="624.5" y="203.6">2704</text><text x="625.7" y="270.5">1700</text><text x="626.9" y="310.4">1100</text><text x="628.1" y="150.5">3502</text><text x="629.3" y="224.1">2397</text><text x="630.5" y="225.8">2371</text><text x="631.7" y="225.2">2380</text><text x="632.9" y="234.6">2238</text><text x="634.1" y="283.8">1500</text><text x="635.3" y="314.3">1042</text><text x="636.5" y="184.2">2996</text><text x="637.7" y="244.0">2098</text><text x="638.9" y="249.4">2016</text><text x="640.1" y="257.7">1892</text><text x="641.2" y="266.1">1766</text><text x="642.4" y="291.3">1387</text><text x="643.6" y="328.4">830</text><text x="644.8" y="211.4">2587</text><text x="646.0" y="260.0">1857</text><text x="647.2" y="271.1">1690</text><text x="648.4" y="277.1">1600</text><text x="649.6" y="280.7">1546</text><text x="650.8" y="310.4">1100</text><text x="652.0" y="325.0">882</text><text x="653.2" y="256.1">1916</text><text x="654.4" y="302.0">1227</text><text x="655.6" y="308.8">1124</text><text x="656.8" y="311.0">1092</text><text x="658.0" y="314.7">1036</text><text x="659.2" y="330.9">793</text><text x="660.4" y="346.4">560</text><text x="661.6" y="296.7">1306</text><text x="662.8" y="329.0">822</text><text x="664.0" y="330.4">800</text><text x="665.1" y="331.8">780</text><text x="666.3" y="333.1">760</text><text x="667.5" y="342.0">626</text><text x="668.7" y="355.7">420</text><text x="669.9" y="331.2">789</text><text x="671.1" y="344.3">592</text><text x="672.3" y="347.7">540</text><text x="673.5" y="349.1">520</text><text x="674.7" y="350.4">500</text><text x="675.9" y="360.2">353</text><text x="677.1" y="367.1">250</text><text x="678.3" y="349.1">520</text><text x="679.5" y="351.7">480</text><text x="680.7" y="352.4">470</text><text x="681.9" y="353.1">460</text><text x="683.1" y="352.4">470</text><text x="684.3" y="357.9">388</text><text x="685.5" y="366.4">260</text><text x="686.7" y="341.1">640</text><text x="687.9" y="340.4">650</text><text x="689.1" y="335.5">723</text><text x="690.2" y="325.3">877</text><text x="691.4" y="317.6">992</text><text x="692.6" y="323.8">900</text><text x="693.8" y="337.1">700</text><text x="695.0" y="265.2">1780</text><text x="696.2" y="260.1">1856</text><text x="697.4" y="235.8">2221</text><text x="698.6" y="247.1">2051</text><text x="699.8" y="225.0">2306</text><text x="701.0" y="289.2">1419</text><text x="702.2" y="259.4">1866</text><text x="703.4" y="160.5">3352</text><text x="704.6" y="230.8">2296</text><text x="705.8" y="346.3">562</text></g>
<text class="rl" x="439.1" y="302.2" textLength="33.9" lengthAdjust="spacingAndGlyphs">111717</text><text class="rl" x="560.6" y="220.8" textLength="33.9" lengthAdjust="spacingAndGlyphs">224177</text><polyline points="103.5,390.0 104.7,390.0 105.9,390.0 107.1,390.0 108.3,390.0 109.5,390.0 110.7,390.0 111.9,390.0 113.1,390.0 114.3,390.0 115.5,390.0 116.6,389.9 117.8,389.9 119.0,389.9 120.2,389.9 121.4,389.9 122.6,389.8 123.8,389.8 125.0,389.8 126.2,389.8 127.4,389.8 128.6,389.7 129.8,389.7 131.0,389.7 132.2,389.6 133.4,389.6 134.6,389.5 135.8,389.4 137.0,389.4 138.2,389.3 139.3,389.3 140.5,389.2 141.7,389.2 142.9,389.1 144.1,389.1 145.3,389.0 146.5,389.0 147.7,388.9 148.9,388.9 150.1,388.9 151.3,388.8 152.5,388.8 153.7,388.7 154.9,388.7 156.1,388.6 157.3,388.6 158.5,388.6 159.7,388.5 160.9,388.5 162.1,388.4 163.2,388.4 164.4,388.4 165.6,388.3 166.8,388.3 168.0,388.3 169.2,388.2 170.4,388.2 171.6,388.2 172.8,388.2 174.0,388.2 175.2,388.2 176.4,388.1 177.6,388.1 178.8,388.1 180.0,388.1 181.2,388.1 182.4,388.1 183.6,388.1 184.8,388.1 186.0,388.1 187.2,388.0 188.3,388.0 189.5,388.0 190.7,388.0 191.9,388.0 193.1,388.0 194.3,388.0 195.5,388.0 196.7,388.0 197.9,388.0 199.1,388.0 200.3,388.0 201.5,388.0 202.7,388.0 203.9,388.0 205.1,388.0 206.3,388.0 207.5,388.0 208.7,388.0 209.9,388.0 211.1,388.0 212.2,387.9 213.4,387.9 214.6,387.9 215.8,387.9 217.0,387.9 218.2,387.9 219.4,387.9 220.6,387.9 221.8,387.9 223.0,387.9 224.2,387.9 225.4,387.9 226.6,387.9 227.8,387.8 229.0,387.8 230.2,387.8 231.4,387.8 232.6,387.8 233.8,387.8 235.0,387.8 236.1,387.7 237.3,387.7 238.5,387.7 239.7,387.7 240.9,387.7 242.1,387.7 243.3,387.7 244.5,387.6 245.7,387.6 246.9,387.6 248.1,387.6 249.3,387.6 250.5,387.6 251.7,387.6 252.9,387.5 254.1,387.5 255.3,387.5 256.5,387.5 257.7,387.5 258.9,387.5 260.0,387.5 261.2,387.4 262.4,387.4 263.6,387.4 264.8,387.4 266.0,387.4 267.2,387.4 268.4,387.4 269.6,387.4 270.8,387.4 272.0,387.3 273.2,387.3 274.4,387.3 275.6,387.3 276.8,387.3 278.0,387.3 279.2,387.2 280.4,387.2 281.6,387.2 282.8,387.2 283.9,387.2 285.1,387.1 286.3,387.0 287.5,387.0 288.7,386.9 289.9,386.8 291.1,386.8 292.3,386.8 293.5,386.6 294.7,386.5 295.9,386.3 297.1,386.2 298.3,386.0 299.5,385.9 300.7,385.9 301.9,385.7 303.1,385.6 304.3,385.4 305.5,385.3 306.6,385.1 307.8,385.1 309.0,385.0 310.2,384.8 311.4,384.6 312.6,384.4 313.8,384.3 315.0,384.1 316.2,384.0 317.4,383.9 318.6,383.7 319.8,383.6 321.0,383.4 322.2,383.3 323.4,383.1 324.6,383.0 325.8,382.9 327.0,382.8 328.2,382.6 329.4,382.5 330.6,382.3 331.7,382.1 332.9,381.9 334.1,381.8 335.3,381.6 336.5,381.3 337.7,381.0 338.9,380.8 340.1,380.5 341.3,380.4 342.5,380.2 343.7,379.9 344.9,379.6 346.1,379.4 347.3,379.1 348.5,378.8 349.7,378.7 350.9,378.5 352.1,378.2 353.3,378.0 354.5,377.7 355.6,377.4 356.8,377.1 358.0,376.9 359.2,376.7 360.4,376.4 361.6,376.1 362.8,375.7 364.0,375.4 365.2,375.1 366.4,374.9 367.6,374.7 368.8,374.4 370.0,374.1 371.2,373.8 372.4,373.4 373.6,373.1 374.8,372.9 376.0,372.8 377.2,372.5 378.4,372.1 379.5,371.7 380.7,371.4 381.9,371.1 383.1,370.9 384.3,370.5 385.5,370.1 386.7,369.6 387.9,369.1 389.1,368.6 390.3,368.0 391.5,367.3 392.7,366.5 393.9,365.5 395.1,364.4 396.3,363.1 397.5,361.6 398.7,360.2 399.9,358.9 401.1,358.0 402.2,355.8 403.4,353.6 404.6,351.4 405.8,348.9 407.0,346.3 408.2,344.9 409.4,344.2 410.6,341.8 411.8,339.8 413.0,337.7 414.2,335.7 415.4,333.8 416.6,332.6 417.8,331.7 419.0,329.1 420.2,326.8 421.4,324.9 422.6,323.2 423.8,321.6 425.0,320.3 426.2,318.7 427.3,316.8 428.5,315.3 429.7,313.9 430.9,312.4 432.1,311.0 433.3,309.9 434.5,309.2 435.7,307.7 436.9,307.0 438.1,306.4 439.3,305.8 440.5,305.2 441.7,304.4 442.9,303.8 444.1,302.5 445.3,301.5 446.5,300.5 447.7,299.5 448.9,298.6 450.1,297.9 451.2,297.5 452.4,296.6 453.6,296.0 454.8,295.4 456.0,294.9 457.2,294.3 458.4,293.9 459.6,293.7 460.8,293.0 462.0,292.4 463.2,291.8 464.4,291.2 465.6,290.9 466.8,290.8 468.0,290.5 469.2,289.7 470.4,289.1 471.6,288.4 472.8,287.7 474.0,287.4 475.1,287.1 476.3,286.8 477.5,286.2 478.7,285.7 479.9,285.2 481.1,284.7 482.3,284.2 483.5,283.9 484.7,283.8 485.9,283.3 487.1,283.0 488.3,282.7 489.5,282.4 490.7,282.0 491.9,281.6 493.1,281.4 494.3,280.9 495.5,280.4 496.7,279.9 497.9,279.4 499.0,278.9 500.2,278.4 501.4,278.2 502.6,277.3 503.8,276.5 505.0,275.6 506.2,274.8 507.4,274.0 508.6,273.3 509.8,272.8 511.0,271.7 512.2,270.5 513.4,269.4 514.6,268.3 515.8,267.4 517.0,266.9 518.2,266.5 519.4,265.3 520.6,264.3 521.8,263.3 522.9,262.3 524.1,261.3 525.3,260.7 526.5,260.3 527.7,259.4 528.9,258.5 530.1,257.6 531.3,256.7 532.5,255.8 533.7,255.3 534.9,255.1 536.1,253.7 537.3,252.6 538.5,251.4 539.7,250.3 540.9,249.1 542.1,248.3 543.3,247.8 544.5,245.8 545.7,244.4 546.8,242.9 548.0,241.5 549.2,240.0 550.4,239.1 551.6,238.5 552.8,236.1 554.0,234.2 555.2,232.2 556.4,230.3 557.6,228.4 558.8,227.3 560.0,226.9 561.2,225.9 562.4,223.2 563.6,221.3 564.8,219.4 566.0,217.5 567.2,216.2 568.4,215.4 569.5,212.6 570.7,210.4 571.9,208.2 573.1,205.5 574.3,203.3 575.5,201.7 576.7,200.8 577.9,197.6 579.1,195.0 580.3,192.9 581.5,190.9 582.7,189.0 583.9,187.8 585.1,187.1 586.3,184.0 587.5,181.9 588.7,179.6 589.9,177.1 591.1,174.5 592.3,172.8 593.5,171.5 594.6,168.3 595.8,166.0 597.0,163.7 598.2,161.3 599.4,159.4 600.6,158.3 601.8,157.5 603.0,154.9 604.2,153.1 605.4,151.5 606.6,149.7 607.8,147.9 609.0,146.7 610.2,145.7 611.4,143.5 612.6,141.7 613.8,140.0 615.0,138.3 616.2,136.5 617.4,135.3 618.5,134.3 619.7,133.1 620.9,131.8 622.1,129.1 623.3,127.1 624.5,125.1 625.7,123.9 626.9,123.1 628.1,120.7 629.3,119.0 630.5,117.3 631.7,115.6 632.9,113.8 634.1,112.5 635.3,111.5 636.5,109.2 637.7,107.5 638.9,105.8 640.1,104.2 641.2,103.2 642.4,102.4 643.6,102.1 644.8,100.5 646.0,99.5 647.2,98.5 648.4,97.5 649.6,96.4 650.8,95.7 652.0,95.2 653.2,93.9 654.4,93.1 655.6,92.4 656.8,91.7 658.0,91.0 659.2,90.5 660.4,90.1 661.6,89.3 662.8,88.8 664.0,88.3 665.1,87.8 666.3,87.3 667.5,86.9 668.7,86.7 669.9,86.2 671.1,85.8 672.3,85.4 673.5,85.1 674.7,84.7 675.9,84.5 677.1,84.3 678.3,84.0 679.5,83.6 680.7,83.3 681.9,83.0 683.1,82.7 684.3,82.4 685.5,82.3 686.7,81.8 687.9,81.4 689.1,80.9 690.2,80.3 691.4,79.7 692.6,79.2 693.8,78.9 695.0,77.8 696.2,76.7 697.4,75.3 698.6,73.9 699.8,72.3 701.0,71.3 702.2,70.0 703.4,67.7 704.6,66.0 705.8,65.5" fill="none" stroke="#fc0505" stroke-width="7.5" stroke-linecap="round" stroke-linejoin="round"/>
<text class="rl" x="705.4" y="57.7" textLength="33.9" lengthAdjust="spacingAndGlyphs">447718</text>
<g stroke="#000" stroke-width="1.15" fill="none"><path d="M79.4,52 V403.3 H729.8"/><path d="M72.6,390.4 H79.4"/><path d="M72.6,323.8 H79.4"/><path d="M72.6,257.2 H79.4"/><path d="M72.6,190.6 H79.4"/><path d="M72.6,124.0 H79.4"/><path d="M72.6,57.4 H79.4"/><path d="M474.1,403.3 V409.7"/><path d="M730.0,390.0 V100.1"/><path d="M730.0,390.0 H736.6"/><path d="M730.0,317.5 H736.6"/><path d="M730.0,245.1 H736.6"/><path d="M730.0,172.6 H736.6"/><path d="M730.0,100.1 H736.6"/></g>
<text class="ax" x="65.3" y="393.7" text-anchor="end">0</text><text class="ax" x="65.3" y="327.1" text-anchor="end">1000</text><text class="ax" x="65.3" y="260.5" text-anchor="end">2000</text><text class="ax" x="65.3" y="193.9" text-anchor="end">3000</text><text class="ax" x="65.3" y="127.3" text-anchor="end">4000</text><text class="ax" x="65.3" y="60.7" text-anchor="end">5000</text><text class="ax" x="474.1" y="425.7" text-anchor="middle" textLength="21" lengthAdjust="spacingAndGlyphs">2021</text><text class="ax" transform="translate(753.2,390.0) rotate(-90)" text-anchor="middle" textLength="27.2" lengthAdjust="spacingAndGlyphs">0e+00</text><text class="ax" transform="translate(753.2,317.5) rotate(-90)" text-anchor="middle" textLength="27.2" lengthAdjust="spacingAndGlyphs">1e+05</text><text class="ax" transform="translate(753.2,245.1) rotate(-90)" text-anchor="middle" textLength="27.2" lengthAdjust="spacingAndGlyphs">2e+05</text><text class="ax" transform="translate(753.2,172.6) rotate(-90)" text-anchor="middle" textLength="27.2" lengthAdjust="spacingAndGlyphs">3e+05</text><text class="ax" transform="translate(753.2,100.1) rotate(-90)" text-anchor="middle" textLength="27.2" lengthAdjust="spacingAndGlyphs">4e+05</text><text class="al" transform="translate(37.7,227.7) rotate(-90)" text-anchor="middle" textLength="135.8" lengthAdjust="spacing">Αριθμός νέων κρουσμάτων</text><text class="al" transform="translate(777.6,226.85) rotate(-90)" text-anchor="middle" textLength="161.3" lengthAdjust="spacing">Συνολικός αριθμός κρουσμάτων</text>
</svg></body></html>
